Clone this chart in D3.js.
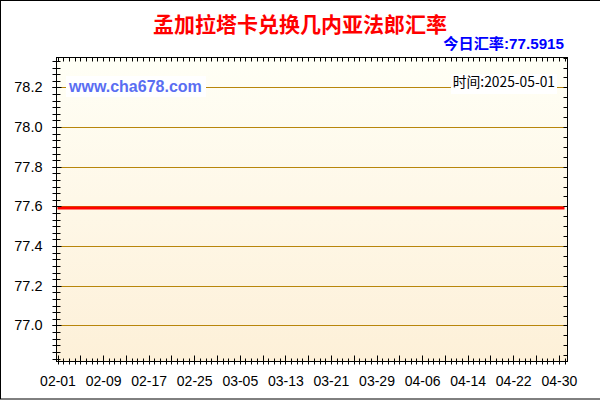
<!DOCTYPE html>
<html><head><meta charset="utf-8">
<script src="https://cdn.jsdelivr.net/npm/d3@7/dist/d3.min.js"></script>
<style>body{margin:0;background:#fff}svg{display:block}</style>
</head><body>
<svg id="c" width="600" height="400"></svg>
<script>
// ---- data ----
const titleText = "孟加拉塔卡兑换几内亚法郎汇率";
const todayRate = "今日汇率:77.5915";
const timeText = "时间:2025-05-01";
const siteText = "www.cha678.com";
const dates = ["2025-02-01","2025-02-09","2025-02-17","2025-02-25","2025-03-05","2025-03-13","2025-03-21","2025-03-29","2025-04-06","2025-04-14","2025-04-22","2025-04-30","2025-05-01"];
const rates = [77.5915,77.5915,77.5915,77.5915,77.5915,77.5915,77.5915,77.5915,77.5915,77.5915,77.5915,77.5915,77.5915];
const xTickLabels = ["02-01","02-09","02-17","02-25","03-05","03-13","03-21","03-29","04-06","04-14","04-22","04-30"];
const yTickValues = [77.0,77.2,77.4,77.6,77.8,78.0,78.2];
const xDomain = ["2025-02-01","2025-05-01"];
const yDomain = [76.821, 78.353];

// ---- layout ----
const svg = d3.select("#c");
const PL = 56, PR = 567, PT = 57, PB = 361;
const parse = s => new Date(s + "T00:00:00Z");
const x = d3.scaleUtc().domain(xDomain.map(parse)).range([57.5, 564.5]);
const y = d3.scaleLinear().domain(yDomain).range([PB, PT]);
const fmtMD = d3.utcFormat("%m-%d");

const defs = svg.append("defs");
const g1 = defs.append("linearGradient").attr("id","bg").attr("x1",0).attr("y1",0).attr("x2",0).attr("y2",1);
g1.append("stop").attr("offset","0%").attr("stop-color","#fffff6");
g1.append("stop").attr("offset","100%").attr("stop-color","#fdf0d8");

// outer frame
svg.append("rect").attr("x",0.5).attr("y",0.5).attr("width",601).attr("height",398.5)
  .attr("fill","#fff").attr("stroke","#000");

// plot background
svg.append("rect").attr("x",PL+0.5).attr("y",PT+0.5).attr("width",PR-PL).attr("height",PB-PT)
  .attr("fill","url(#bg)");

// grid lines
svg.append("g").selectAll("line").data(yTickValues).join("line")
  .attr("x1",PL+1).attr("x2",PR-3)
  .attr("y1",d=>Math.round(y(d))+0.5).attr("y2",d=>Math.round(y(d))+0.5)
  .attr("stroke","#b8860b").attr("stroke-width",1);

// rate line
const line = d3.line().x((d,i)=>x(parse(dates[i]))).y(d=>y(d));
svg.append("path").datum(rates).attr("d",line)
  .attr("fill","none").attr("stroke","#ff0000").attr("stroke-width",3);

// watermark & time label
svg.append("rect").attr("x",66).attr("y",76).attr("width",140).attr("height",21).attr("fill","#fff");
svg.append("text").attr("x",69).attr("y",92).text(siteText)
  .attr("font-family","Liberation Sans, Arial, sans-serif").attr("font-weight","bold")
  .attr("font-size",16).attr("fill","#5a6ef2");
svg.append("rect").attr("x",451).attr("y",74).attr("width",106).attr("height",20).attr("fill","#fff");
svg.append("text").attr("x",555).attr("y",87).attr("text-anchor","end").text(timeText)
  .attr("font-family","Noto Sans CJK SC, sans-serif").attr("font-size",13.8).attr("fill","#000");

// axes
const axStyle = g => {
  g.select(".domain").remove();
  g.selectAll("line").attr("stroke","#000");
  g.selectAll("text").attr("font-family","Liberation Sans, Arial, sans-serif").attr("fill","#000");
};
// left minor
const yMinor = d3.range(0, 47).map(k => 77.0 + (k - 6) * 0.2 / 6).filter(v => v >= yDomain[0] && v <= yDomain[1]);
svg.append("g").attr("transform",`translate(${PL+0.5},0)`)
  .call(d3.axisLeft(y).tickValues(yMinor).tickSize(3).tickFormat(""))
  .call(axStyle)
  .call(g => g.selectAll(".tick").attr("transform", d => `translate(0,${Math.round(y(d))+0.5})`))
  .call(g => g.selectAll("line").attr("x2",-4).attr("x1",4));
// left major with labels
svg.append("g").attr("transform",`translate(${PL+0.5},0)`)
  .call(d3.axisLeft(y).tickValues(yTickValues).tickSize(4).tickPadding(10).tickFormat(d3.format(".1f")))
  .call(axStyle)
  .call(g => g.selectAll(".tick").attr("transform", d => `translate(0,${Math.round(y(d))+0.5})`))
  .call(g => g.selectAll("line").attr("x1",5))
  .call(g => g.selectAll("text").attr("font-size",14.5));
// right ticks
const yRight = d3.range(0, 40).map(k => 77.0 + (k - 4) * 0.05).filter(v => v >= yDomain[0] && v <= yDomain[1]);
svg.append("g").attr("transform",`translate(${PR+0.5},0)`)
  .call(d3.axisLeft(y).tickValues(yRight).tickSize(4).tickFormat(""))
  .call(axStyle)
  .call(g => g.selectAll(".tick").attr("transform", d => `translate(0,${Math.round(y(d))+0.5})`));
// bottom daily ticks
const days = d3.utcDay.range(parse(xDomain[0]), d3.utcDay.offset(parse(xDomain[1]),1));
const start = parse(xDomain[0]);
svg.append("g").attr("transform",`translate(0,${PB+0.5})`)
  .call(d3.axisBottom(x).tickValues(days).tickSize(3).tickFormat(""))
  .call(axStyle)
  .call(g => g.selectAll(".tick").attr("transform", d => `translate(${Math.round(x(d))+0.5},0)`))
  .call(g => g.selectAll("line").attr("y1", d => (d3.utcDay.count(start,d) % 4 === 0) ? -6 : -3));
// bottom labels
const labelDates = xTickLabels.map(s => parse("2025-" + s));
svg.append("g").attr("transform",`translate(0,${PB+0.5})`)
  .call(d3.axisBottom(x).tickValues(labelDates).tickSize(0).tickPadding(15).tickFormat(fmtMD))
  .call(axStyle)
  .call(g => g.selectAll("text").attr("font-size",14));
// top daily ticks
svg.append("g").attr("transform",`translate(0,${PT+0.5})`)
  .call(d3.axisBottom(x).tickValues(days).tickSize(4).tickFormat(""))
  .call(axStyle)
  .call(g => g.selectAll(".tick").attr("transform", d => `translate(${Math.round(x(d))+0.5},0)`));

// plot border
svg.append("rect").attr("x",PL+0.5).attr("y",PT+0.5).attr("width",PR-PL).attr("height",PB-PT)
  .attr("fill","none").attr("stroke","#000");

// titles
svg.append("text").attr("x",300).attr("y",32).attr("text-anchor","middle").text(titleText)
  .attr("font-family","Noto Sans CJK SC, sans-serif").attr("font-weight","bold")
  .attr("font-size",21).attr("fill","#ff0000");
svg.append("text").attr("x",564).attr("y",49).attr("text-anchor","end").text(todayRate)
  .attr("font-family","Liberation Sans, Noto Sans CJK SC, sans-serif").attr("font-weight","bold")
  .attr("font-size",15.2).attr("fill","#0000ff");
</script>
</body></html>
